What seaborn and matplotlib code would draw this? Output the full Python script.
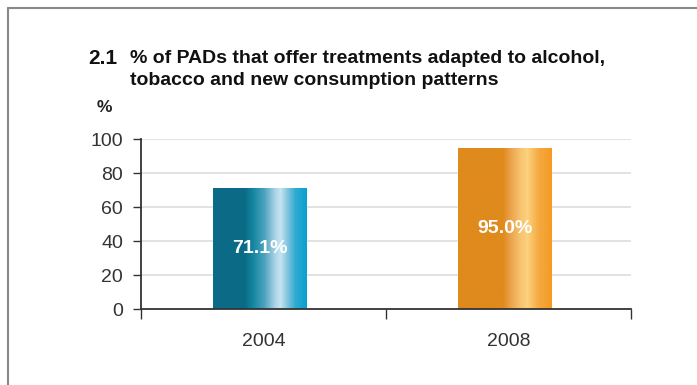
import numpy as np
import pandas as pd
import matplotlib.pyplot as plt
from matplotlib.colors import LinearSegmentedColormap
from matplotlib.lines import Line2D
import seaborn as sns

# chart data
years = ["2004", "2008"]
values = [71.1, 95.0]
y_ticks = [0, 20, 40, 60, 80, 100]

title_num = "2.1"
title_text = "% of PADs that offer treatments adapted to alcohol,\ntobacco and new consumption patterns"

df = pd.DataFrame({"year": years, "pct": values})

sns.set_theme(style="white")
plt.rcParams['font.family'] = ['Liberation Sans', 'DejaVu Sans']

fig = plt.figure(figsize=(6.97, 3.85), dpi=100)
ax = fig.add_axes([141 / 697, 1 - 309 / 385, (631 - 141) / 697, (309 - 139) / 385])

sns.barplot(data=df, x="year", y="pct", hue="year", palette=["#0b6b87", "#df8a1c"],
            width=0.38, legend=False, ax=ax, saturation=1)

# gradient fills, clipped to each bar
teal = LinearSegmentedColormap.from_list("teal", [
    (0.0, "#0b6b87"), (0.34, "#0b6b87"), (0.42, "#12859f"), (0.55, "#4ea3bf"),
    (0.66, "#a9d3e4"), (0.72, "#c6e5f1"), (0.80, "#7cc3dc"), (0.88, "#2eaad2"),
    (1.0, "#07a1cf")])
orange = LinearSegmentedColormap.from_list("orange", [
    (0.0, "#df8a1c"), (0.48, "#df8a1c"), (0.56, "#eba34b"), (0.67, "#f8c46f"),
    (0.74, "#fdd17e"), (0.86, "#f5aa42"), (1.0, "#f59a23")])
grad = np.linspace(0, 1, 256).reshape(1, -1)
for patch, cmap in zip(ax.patches, [teal, orange]):
    # nudge bars a touch left like the original layout
    patch.set_x(patch.get_x() - 0.015)
    x0, y0 = patch.get_x(), patch.get_y()
    w, h = patch.get_width(), patch.get_height()
    im = ax.imshow(grad, cmap=cmap, aspect="auto", extent=[x0, x0 + w, y0, y0 + h],
                   zorder=patch.get_zorder() + 0.1)
    im.set_clip_path(patch)

for i, v in enumerate(values):
    ax.text(i - 0.015, v / 2, f"{v:.1f}%", ha="center", va="center", color="white",
            fontsize=14, fontweight="bold", zorder=5)

ax.set_xlim(-0.5, 1.5)
ax.set_ylim(0, 100)
ax.set_yticks(y_ticks)
ax.yaxis.grid(True, color="#dddddd", linewidth=1.2)
ax.set_axisbelow(True)
ax.set_xlabel("")
ax.set_ylabel("")

for s in ["top", "right"]:
    ax.spines[s].set_visible(False)
for s in ["left", "bottom"]:
    ax.spines[s].set_color("#333333")
    ax.spines[s].set_linewidth(1.3)

ax.tick_params(axis="y", length=6, width=1.0, color="#333333", labelsize=14,
               labelcolor="#333333", pad=7, left=True)
ax.tick_params(axis="x", which="major", length=0, labelsize=14, labelcolor="#333333", pad=17)
ax.set_xticks([-0.5, 0.5, 1.5], minor=True)
ax.tick_params(axis="x", which="minor", length=7, width=1.0, color="#333333", bottom=True)

# title block
fig.text(88 / 697, 1 - 58 / 385, title_num, fontsize=15, fontweight="bold",
         color="#111111", va="center", ha="left")
fig.text(130 / 697, 1 - 69.5 / 385, title_text, fontsize=14, fontweight="bold",
         color="#111111", va="center", ha="left", linespacing=1.32)
fig.text(97 / 697, 1 - 108 / 385, "%", fontsize=12.5, fontweight="bold",
         color="#222222", va="center", ha="left")

# frame lines
fig.add_artist(Line2D([8 / 697, 8 / 697], [0, 1 - 8 / 385], transform=fig.transFigure,
                      color="#888888", linewidth=1.5))
fig.add_artist(Line2D([8 / 697, 1], [1 - 8 / 385, 1 - 8 / 385], transform=fig.transFigure,
                      color="#888888", linewidth=1.5))

fig.savefig("out.png", dpi=100)
